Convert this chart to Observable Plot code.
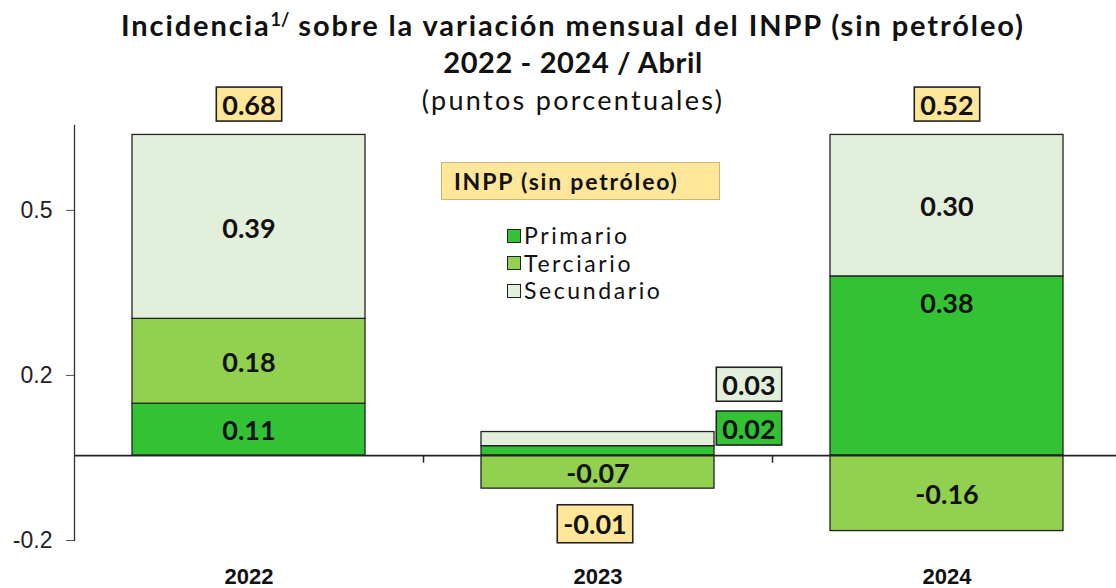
<!DOCTYPE html>
<html>
<head>
<meta charset="utf-8">
<script src="https://cdn.jsdelivr.net/npm/d3@7"></script>
<script src="https://cdn.jsdelivr.net/npm/@observablehq/plot@0.6"></script>
<style>
  html, body { margin: 0; padding: 0; background: #fff; }
  #wrap { position: relative; width: 1116px; height: 588px; overflow: hidden; font-family: Lato, sans-serif; color: #111; }
  .tline { position: absolute; left: 0; width: 1146px; text-align: center; white-space: nowrap; }
  #t1 { top: 8px; font-weight: 700; font-size: 29px; line-height: 34px; letter-spacing: 1.9px; }
  #t1 sup { font-size: 18px; vertical-align: 0; position: relative; top: -10px; letter-spacing: 0; }
  #t2 { top: 45px; font-weight: 700; font-size: 29px; line-height: 34px; letter-spacing: 0.6px; }
  #t3 { top: 83px; font-weight: 400; font-size: 27px; line-height: 34px; letter-spacing: 2.3px; }
  #legbox { position: absolute; left: 441px; top: 162px; width: 279px; height: 38px; background: #ffe699; border: 1px solid #c9b47e; box-sizing: border-box; font-weight: 700; font-size: 23px; line-height: 36px; padding-left: 12px; letter-spacing: 1.8px; white-space: nowrap; }
  #legend { position: absolute; left: 507px; top: 222px; font-size: 23px; line-height: 27.5px; letter-spacing: 2.6px; }
  .li { display: flex; align-items: center; }
  .sw { width: 14px; height: 14px; border: 1px solid #222; margin-right: 3px; box-sizing: border-box; }
  #chart { position: absolute; left: 0; top: 0; }
</style>
</head>
<body>
<div id="wrap">
  <div id="chart"></div>
  <div class="tline" id="t1">Incidencia<sup>1/</sup> sobre la variación mensual del INPP (sin petróleo)</div>
  <div class="tline" id="t2">2022 - 2024 / Abril</div>
  <div class="tline" id="t3">(puntos porcentuales)</div>
  <div id="legbox">INPP (sin petróleo)</div>
  <div id="legend"></div>
</div>
<script>
// ---- data ----
const years = ["2022", "2023", "2024"];
const sectors = ["Primario", "Terciario", "Secundario"];
const primario = [0.11, 0.02, 0.38];
const terciario = [0.18, -0.07, -0.16];
const secundario = [0.39, 0.03, 0.30];
const totals = [0.68, -0.01, 0.52];
const yTicks = [-0.18, 0.17, 0.52];
const colors = ["#33c233", "#92d050", "#e2efda"];

const seriesBySector = {Primario: primario, Terciario: terciario, Secundario: secundario};
const data = years.flatMap((yr, i) => sectors.map(s => ({year: yr, sector: s, value: seriesBySector[s][i]})));
const totalRows = years.map((yr, i) => {
  const vals = sectors.map(s => seriesBySector[s][i]);
  const pos = d3.sum(vals.filter(v => v > 0));
  const neg = d3.sum(vals.filter(v => v < 0));
  return {year: yr, total: totals[i], anchorY: totals[i] >= 0 ? pos : neg};
});

// legend
const leg = document.getElementById("legend");
sectors.forEach((s, i) => {
  const row = document.createElement("div");
  row.className = "li";
  row.innerHTML = `<span class="sw" style="background:${colors[i]}"></span><span>${s}</span>`;
  leg.appendChild(row);
});

const fmt = v => v.toFixed(2);
const isOutside = d => d.year === "2023" && d.value > 0;
const isShifted = d => d.year === "2024" && d.sector === "Primario";
const lbl = {fontSize: 27, fontWeight: "bold", fill: "#111"};

const chart = Plot.plot({
  width: 1116,
  height: 588,
  marginLeft: 74,
  marginRight: -5,
  marginTop: 125,
  marginBottom: 48,
  style: {fontFamily: "Lato, sans-serif", overflow: "visible", background: "transparent"},
  x: {domain: years, paddingInner: 1 / 3, paddingOuter: 1 / 6, label: null},
  y: {domain: [-0.18, 0.70], label: null},
  color: {domain: sectors, range: colors},
  marks: [
    Plot.barY(data, {x: "year", y: "value", fill: "sector", stroke: "#222", strokeWidth: 1.3}),
    Plot.ruleY([0], {stroke: "#222", strokeWidth: 1.6}),
    Plot.ruleX(years.slice(1), {x: d => d, y1: 0, y2: -0.016, dx: -174.5, stroke: "#222", strokeWidth: 1.5}),
    Plot.frame({anchor: "left", stroke: "#333", strokeWidth: 1.3}),
    Plot.axisY({ticks: yTicks, tickFormat: d => d.toFixed(1), tickSize: 8, tickPadding: 14, fontSize: 23,
      fontFamily: "Liberation Sans, Arial, sans-serif", fill: "#222", stroke: "#555"}),
    Plot.axisX({tickSize: 0, tickPadding: 28, fontSize: 22, fontWeight: "bold",
      fontFamily: "Liberation Sans, Arial, sans-serif", fill: "#111"}),
    // in-bar labels
    Plot.text(data, Plot.stackY({x: "year", y: "value",
      text: d => (isOutside(d) || isShifted(d)) ? null : fmt(d.value), ...lbl, dy: 2})),
    Plot.text(data, Plot.stackY({x: "year", y: "value",
      text: d => isShifted(d) ? fmt(d.value) : null, ...lbl, dy: -62})),
    // outside labels for 2023
    Plot.text(data, Plot.stackY({x: "year", y: "value",
      text: d => (isOutside(d) && d.sector === "Primario") ? fmt(d.value) : null,
      ...lbl, dx: 151, dy: -21, className: "box-prim"})),
    Plot.text(data, Plot.stackY({x: "year", y: "value",
      text: d => (isOutside(d) && d.sector === "Secundario") ? fmt(d.value) : null,
      ...lbl, dx: 151, dy: -53, className: "box-sec"})),
    // totals
    Plot.text(totalRows, {x: "year", y: "anchorY", text: d => fmt(d.total), ...lbl,
      className: "box-tot-pos", filter: d => d.total >= 0, dy: -29}),
    Plot.text(totalRows, {x: "year", y: "anchorY", text: d => fmt(d.total), ...lbl,
      className: "box-tot-neg", filter: d => d.total < 0, dx: -3, dy: 37})
  ]
});

document.getElementById("chart").appendChild(chart);

// draw boxes behind the boxed labels
const boxStyles = {"box-prim": "#33c233", "box-sec": "#e2efda", "box-tot-pos": "#ffe699", "box-tot-neg": "#ffe699"};
Object.entries(boxStyles).forEach(([cls, fill]) => {
  d3.select(chart).selectAll(`.${cls} text`).each(function () {
    const txt = this.textContent;
    if (!txt) return;
    const bb = this.getBBox();
    const cy = bb.y + bb.height / 2;
    const h = cls === "box-tot-neg" ? 38 : 34;
    const r = d3.select(this.parentNode).insert("rect", () => this)
      .attr("x", bb.x - 6).attr("y", cy - h / 2)
      .attr("width", bb.width + 12).attr("height", h)
      .attr("fill", fill).attr("stroke", "#222").attr("stroke-width", 1.6);
    const tr = this.getAttribute("transform");
    if (tr) r.attr("transform", tr);
  });
});
</script>
</body>
</html>
